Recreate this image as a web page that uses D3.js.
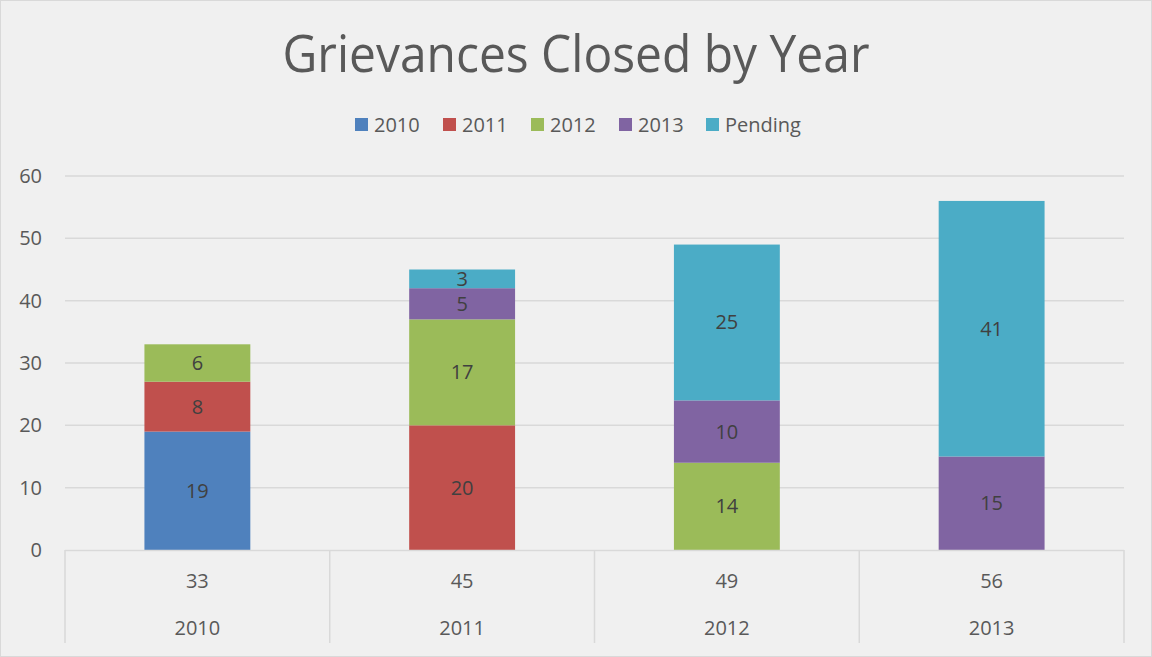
<!DOCTYPE html>
<html>
<head>
<meta charset="utf-8">
<script src="https://cdn.jsdelivr.net/npm/d3@7"></script>
<style>
  body { margin: 0; background: #f0f0f0; }
  text { font-family: "Open Sans", sans-serif; }
</style>
</head>
<body>
<svg id="chart"></svg>
<script>
// years on the x axis
const years = ["2010", "2011", "2012", "2013"];
// series (year closed)
const series = ["2010", "2011", "2012", "2013", "Pending"];
const closed2010 = [19, 0, 0, 0];
const closed2011 = [8, 20, 0, 0];
const closed2012 = [6, 17, 14, 0];
const closed2013 = [0, 5, 10, 15];
const pending = [0, 3, 25, 41];
const yTicks = [0, 10, 20, 30, 40, 50, 60];

const colors = ["#4f81bd", "#c0504d", "#9bbb59", "#8064a2", "#4bacc6"];

const W = 1152, H = 657;
const margin = { top: 176, right: 28, bottom: 107, left: 65 };
const width = W - margin.left - margin.right;
const height = H - margin.top - margin.bottom;

const rows = years.map((yr, i) => ({
  year: yr,
  "2010": closed2010[i], "2011": closed2011[i], "2012": closed2012[i],
  "2013": closed2013[i], "Pending": pending[i]
}));
const totals = rows.map(r => d3.sum(series, k => r[k]));

const svg = d3.select("#chart").attr("width", W).attr("height", H);

svg.append("rect")
  .attr("x", 0.5).attr("y", 0.5)
  .attr("width", W - 1).attr("height", H - 1)
  .attr("fill", "#f0f0f0").attr("stroke", "#d9d9d9");

// Title
svg.append("text")
  .attr("x", W / 2).attr("y", 72)
  .attr("text-anchor", "middle")
  .attr("textLength", 587)
  .attr("lengthAdjust", "spacingAndGlyphs")
  .style("font-size", "52px")
  .style("fill", "#595959")
  .text("Grievances Closed by Year");

const g = svg.append("g").attr("transform", `translate(${margin.left},${margin.top})`);

const x = d3.scaleBand().domain(years).range([0, width]).paddingInner(0.6).paddingOuter(0.3);
const xb = d3.scaleBand().domain(years).range([0, width]);
const y = d3.scaleLinear().domain([0, 60]).range([height, 0]);

// gridlines
g.selectAll(".grid").data(yTicks.slice(1)).enter().append("line")
  .attr("x1", 0).attr("x2", width)
  .attr("y1", d => y(d)).attr("y2", d => y(d))
  .attr("stroke", "#d9d9d9").attr("stroke-width", 1.5);

// y tick labels
g.selectAll(".ytick").data(yTicks).enter().append("text")
  .attr("x", -23).attr("y", d => y(d))
  .attr("dy", "0.35em")
  .attr("text-anchor", "end")
  .style("font-size", "20px").style("fill", "#595959")
  .text(d => d);

// stacked bars
const stack = d3.stack().keys(series)(rows);
const layer = g.selectAll(".layer").data(stack).enter().append("g")
  .attr("fill", (d, i) => colors[i]);

layer.selectAll("rect").data(d => d).enter().append("rect")
  .attr("x", d => x(d.data.year))
  .attr("width", x.bandwidth())
  .attr("y", d => y(d[1]))
  .attr("height", d => y(d[0]) - y(d[1]));

layer.selectAll("text").data(d => d.filter(s => s[1] - s[0] > 0)).enter().append("text")
  .attr("x", d => x(d.data.year) + x.bandwidth() / 2)
  .attr("y", d => (y(d[0]) + y(d[1])) / 2)
  .attr("dy", "0.35em")
  .attr("text-anchor", "middle")
  .style("font-size", "20px").style("fill", "#404040")
  .text(d => d[1] - d[0]);

// multi-level category axis
g.append("line")
  .attr("x1", 0).attr("x2", width)
  .attr("y1", height + 0.5).attr("y2", height + 0.5)
  .attr("stroke", "#d9d9d9").attr("stroke-width", 1.5);

const bounds = years.map(d => xb(d)).concat([width]);
g.selectAll(".sep").data(bounds).enter().append("line")
  .attr("x1", d => d).attr("x2", d => d)
  .attr("y1", height).attr("y2", height + 93)
  .attr("stroke", "#d9d9d9").attr("stroke-width", 1.5);

g.selectAll(".total").data(years).enter().append("text")
  .attr("x", d => xb(d) + xb.bandwidth() / 2)
  .attr("y", height + 31)
  .attr("dy", "0.35em")
  .attr("text-anchor", "middle")
  .style("font-size", "20px").style("fill", "#595959")
  .text((d, i) => totals[i]);

g.selectAll(".year").data(years).enter().append("text")
  .attr("x", d => xb(d) + xb.bandwidth() / 2)
  .attr("y", height + 78)
  .attr("dy", "0.35em")
  .attr("text-anchor", "middle")
  .style("font-size", "20px").style("fill", "#595959")
  .text(d => d);

// legend
const legendX = [355, 443, 531, 619, 706];
const legend = svg.selectAll(".legend").data(series).enter().append("g")
  .attr("transform", (d, i) => `translate(${legendX[i]},118)`);
legend.append("rect")
  .attr("width", 13).attr("height", 13)
  .attr("fill", (d, i) => colors[i]);
legend.append("text")
  .attr("x", 19).attr("y", 7)
  .attr("dy", "0.35em")
  .style("font-size", "20px").style("fill", "#595959")
  .text(d => d);
</script>
</body>
</html>
